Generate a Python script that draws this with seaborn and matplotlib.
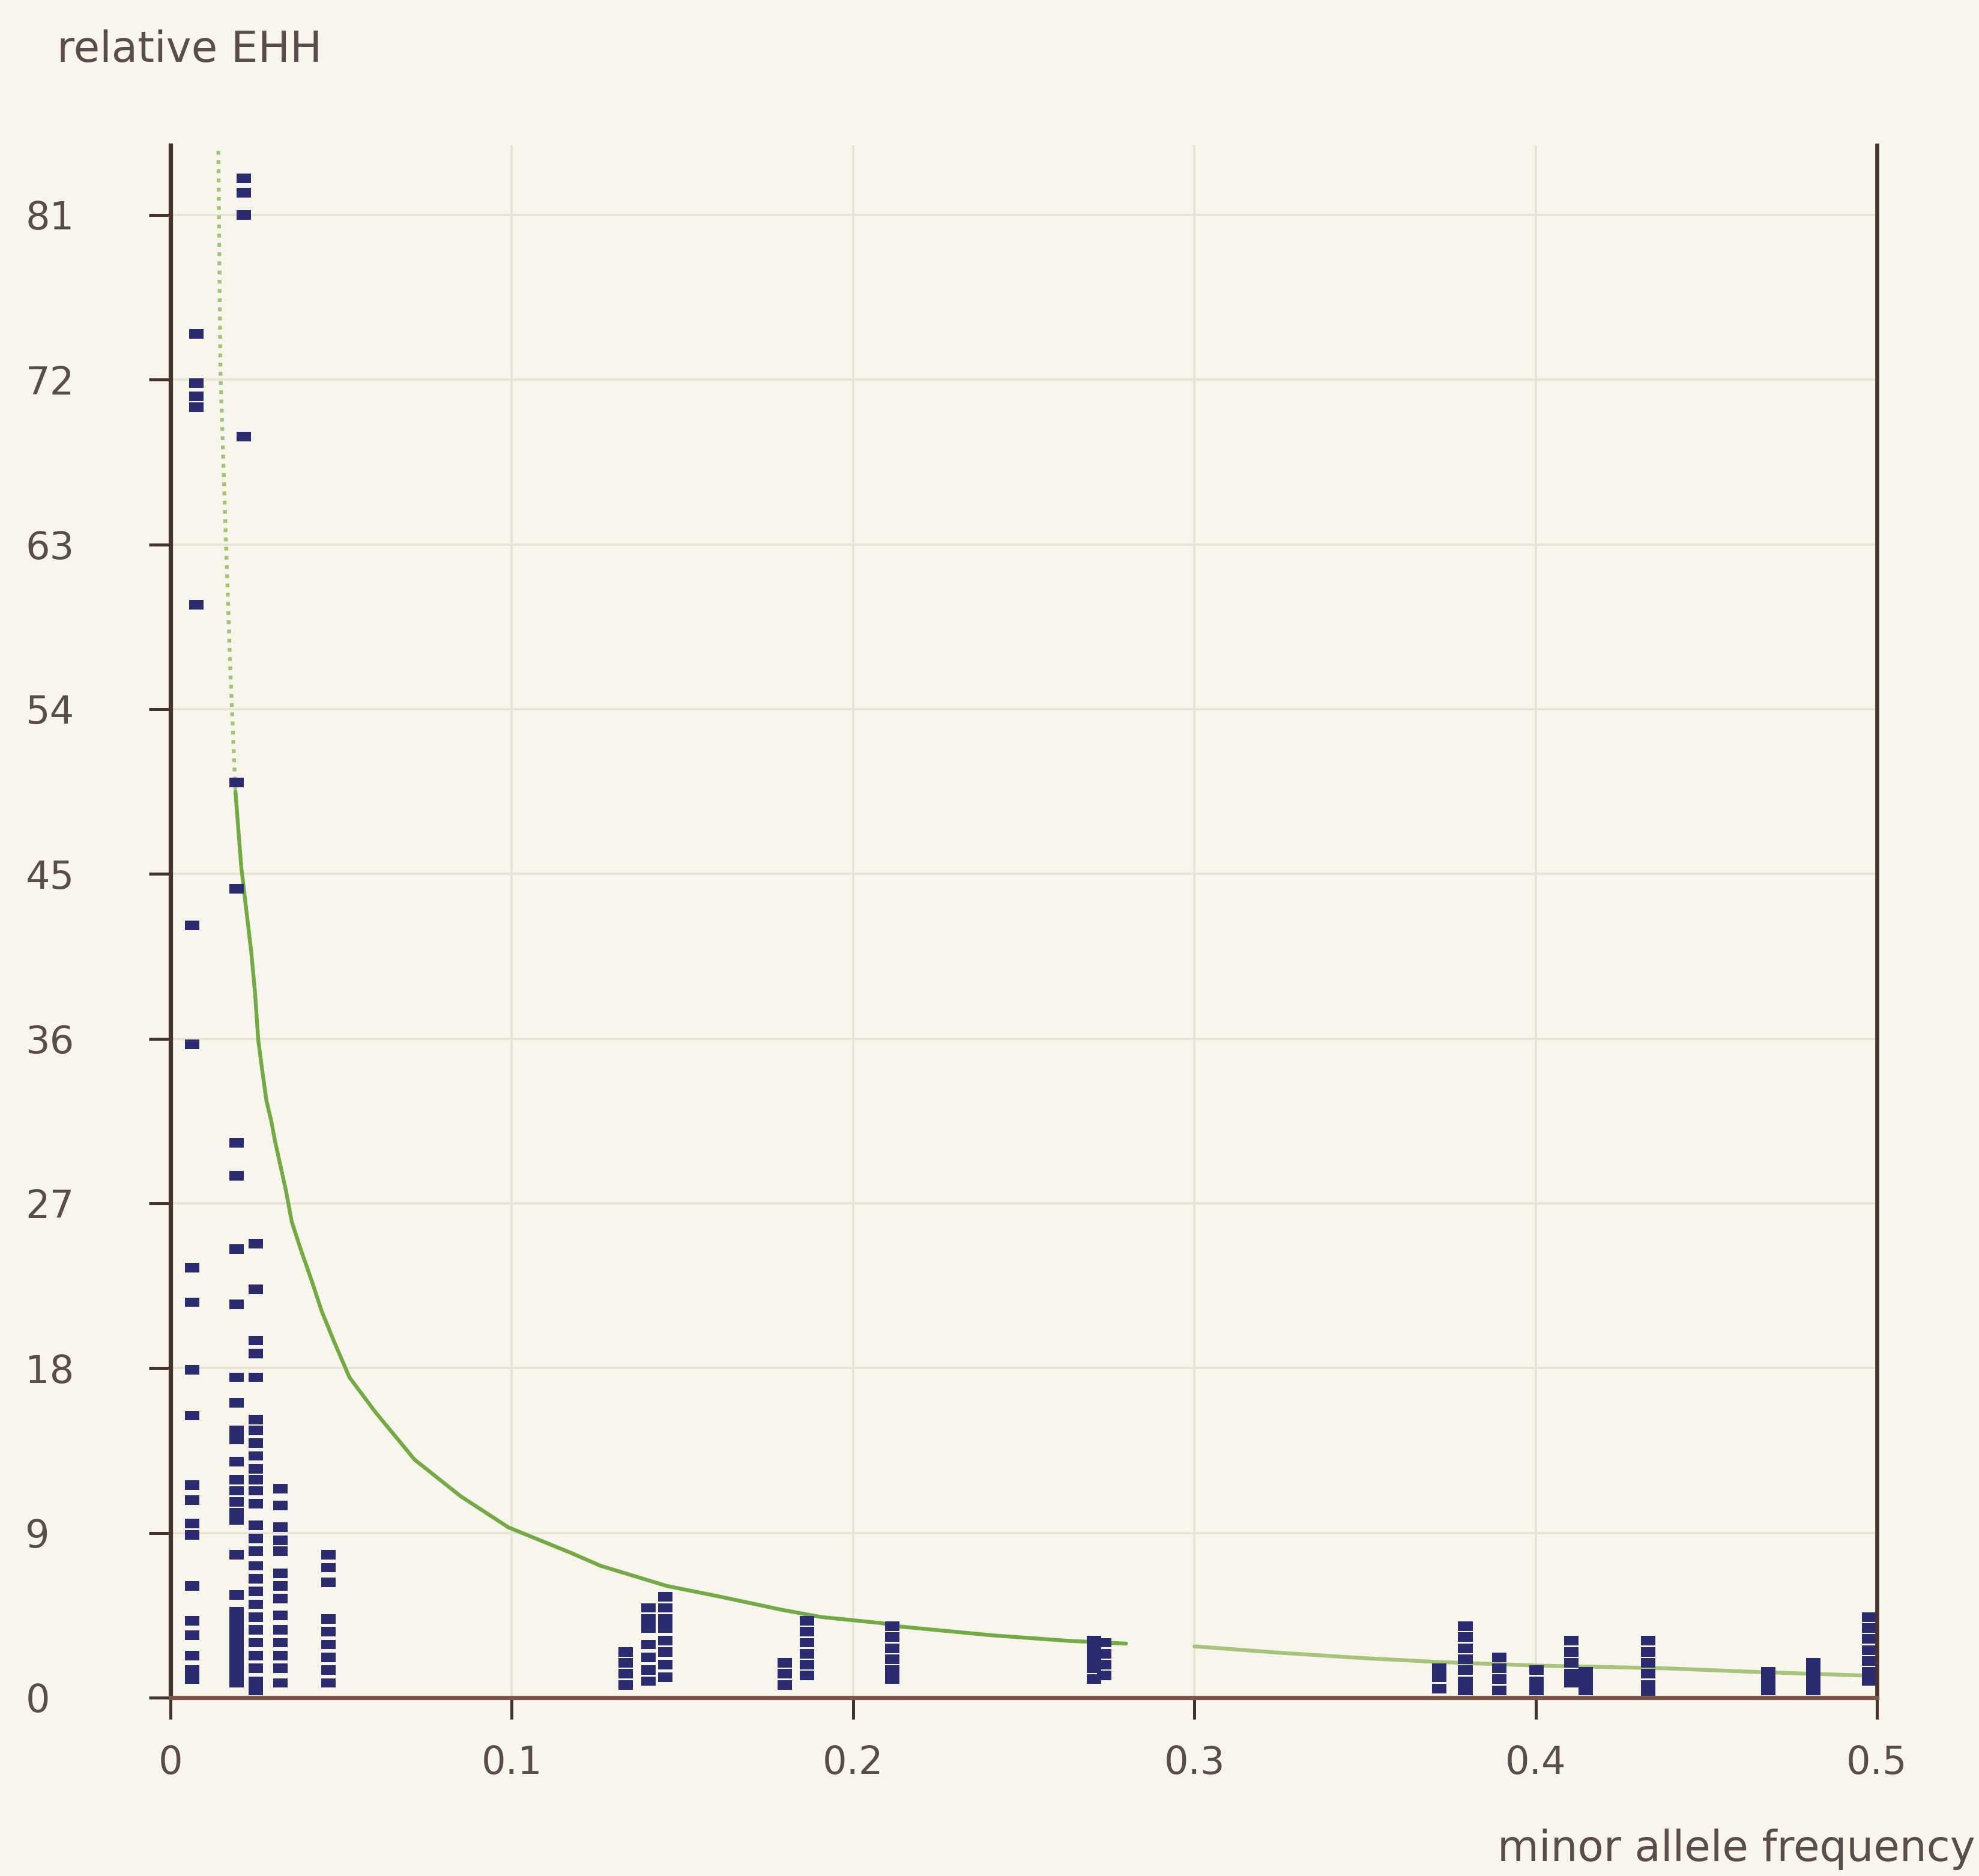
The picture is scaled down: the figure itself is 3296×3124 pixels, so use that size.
import numpy as np
import pandas as pd
import matplotlib
matplotlib.use("Agg")
import matplotlib.pyplot as plt
from matplotlib.markers import MarkerStyle
import seaborn as sns

# ---------------- data ----------------
# minor allele frequency of each column of SNPs
maf_groups = [0.0063, 0.0075, 0.0194, 0.0215, 0.0250, 0.0322, 0.0463,
              0.1333, 0.1400, 0.1450, 0.1800, 0.1864, 0.2115, 0.2705, 0.2735,
              0.3718, 0.3794, 0.3894, 0.4002, 0.4105, 0.4146, 0.4330,
              0.4682, 0.4814, 0.4977]

ehh_g01 = [42.2, 35.7, 23.5, 21.6, 17.9, 15.4, 11.6, 10.8, 9.5, 8.9, 6.1, 4.2, 3.4, 2.3, 1.5, 1.0]
ehh_g02 = [74.5, 71.8, 71.1, 70.5, 59.7]
ehh_g03 = [50.0, 44.2, 30.3, 28.5, 24.5, 21.5, 17.5, 16.1, 14.6, 14.1, 12.9, 11.9, 11.3, 10.7,
           10.1, 9.7, 7.8, 5.6, 4.7, 4.2, 3.7, 3.2, 2.7, 2.2, 1.7, 1.2, 0.8]
ehh_g04 = [83.0, 82.2, 81.0, 68.9]
ehh_g05 = [24.8, 22.3, 19.5, 18.8, 17.5, 15.2, 14.6, 13.9, 13.2, 12.5, 11.9, 11.3, 10.6, 9.4,
           8.7, 8.0, 7.2, 6.5, 5.8, 5.1, 4.4, 3.7, 3.0, 2.3, 1.6, 0.9, 0.4]
ehh_g06 = [11.4, 10.5, 9.3, 8.6, 8.0, 6.8, 6.1, 5.4, 4.5, 3.7, 3.0, 2.3, 1.6, 0.8]
ehh_g07 = [7.8, 7.1, 6.3, 4.3, 3.6, 2.9, 2.2, 1.5, 0.8]
ehh_g08 = [2.5, 1.9, 1.3, 0.7]
ehh_g09 = [4.9, 4.3, 3.8, 2.9, 2.2, 1.5, 0.9]
ehh_g10 = [5.5, 4.9, 4.3, 3.8, 3.1, 2.5, 1.8, 1.1]
ehh_g11 = [1.9, 1.3, 0.7]
ehh_g12 = [4.2, 3.6, 3.0, 2.4, 1.8, 1.2]
ehh_g13 = [3.9, 3.3, 2.7, 2.1, 1.5, 1.0]
ehh_g14 = [3.1, 2.6, 2.1, 1.6, 1.0]
ehh_g15 = [3.0, 2.4, 1.8, 1.2]
ehh_g16 = [1.6, 1.1, 0.5]
ehh_g17 = [3.9, 3.3, 2.7, 2.1, 1.5, 0.9, 0.4]
ehh_g18 = [2.2, 1.6, 1.0, 0.4]
ehh_g19 = [1.5, 0.9, 0.4]
ehh_g20 = [3.1, 2.5, 1.9, 1.3, 0.8]
ehh_g21 = [1.4, 0.9, 0.4]
ehh_g22 = [3.1, 2.5, 1.9, 1.3, 0.7, 0.3]
ehh_g23 = [1.4, 0.9, 0.4]
ehh_g24 = [1.9, 1.4, 0.9, 0.4]
ehh_g25 = [4.4, 3.8, 3.2, 2.6, 2.0, 1.4, 0.9]

ehh_groups = [ehh_g01, ehh_g02, ehh_g03, ehh_g04, ehh_g05, ehh_g06, ehh_g07, ehh_g08,
              ehh_g09, ehh_g10, ehh_g11, ehh_g12, ehh_g13, ehh_g14, ehh_g15, ehh_g16,
              ehh_g17, ehh_g18, ehh_g19, ehh_g20, ehh_g21, ehh_g22, ehh_g23, ehh_g24,
              ehh_g25]

# threshold curve, read point by point
curve_dotted_x = [0.0140, 0.0146, 0.0160, 0.0175, 0.0190]
curve_dotted_y = [84.5, 72.5, 64.4, 56.2, 49.5]
curve_left_x = [0.0190, 0.0207, 0.0222, 0.0236, 0.0247, 0.0257, 0.0269, 0.0281, 0.0295, 0.0306,
                0.0338, 0.0355, 0.0383, 0.0413, 0.0443, 0.0478, 0.0524, 0.0600, 0.0715,
                0.0850, 0.0990, 0.1174, 0.1260, 0.1454, 0.1614, 0.1790, 0.1907, 0.2083,
                0.2127, 0.2409, 0.2632, 0.2800]
curve_left_y = [49.5, 45.4, 43.0, 40.8, 38.6, 35.9, 34.2, 32.6, 31.5, 30.4,
                27.7, 26.0, 24.4, 22.8, 21.1, 19.5, 17.5, 15.6, 13.0,
                11.0, 9.3, 7.9, 7.2, 6.1, 5.5, 4.8, 4.4, 4.07,
                3.9, 3.4, 3.1, 2.95]
curve_right_x = [0.300, 0.325, 0.350, 0.371, 0.400, 0.438, 0.465, 0.497]
curve_right_y = [2.8, 2.45, 2.15, 1.95, 1.75, 1.6, 1.4, 1.2]

y_ticks = [0, 9, 18, 27, 36, 45, 54, 63, 72, 81]
x_ticks = [0, 0.1, 0.2, 0.3, 0.4, 0.5]
x_tick_labels = ["0", "0.1", "0.2", "0.3", "0.4", "0.5"]

# ---------------- build table ----------------
rows = []
for f, vals in zip(maf_groups, ehh_groups):
    for v in vals:
        rows.append((f, v))
snps = pd.DataFrame(rows, columns=["maf", "ehh"])

# ---------------- style ----------------
sns.set_style("white")
plt.rcParams["font.family"] = ["DejaVu Sans"]

bg = "#f8f6ec"
txt = "#5a4c4c"
spine_dark = "#45332d"

fig = plt.figure(figsize=(16.48, 15.62), dpi=200, facecolor=bg)
ax = fig.add_axes([0.0862, 0.0951, 0.8622, 0.8274])
ax.set_facecolor(bg)

ax.set_xlim(0, 0.5)
ax.set_ylim(0, 84.8)

ax.set_xticks(x_ticks)
ax.set_xticklabels(x_tick_labels)
ax.set_yticks(y_ticks)
ax.set_yticklabels([str(t) for t in y_ticks])

ax.grid(True, color="#e8e4d4", lw=1.3, zorder=0)
ax.set_axisbelow(True)

# curve
sns.lineplot(x=curve_dotted_x, y=curve_dotted_y, ax=ax, sort=False, estimator=None,
             color="#a3c475", lw=2.3, linestyle=(0, (1, 1.4)), zorder=2)
sns.lineplot(x=curve_left_x, y=curve_left_y, ax=ax, sort=False, estimator=None,
             color="#74aa45", lw=2.3, zorder=2)
sns.lineplot(x=curve_right_x, y=curve_right_y, ax=ax, sort=False, estimator=None,
             color="#a6c47a", lw=2.3, zorder=2)

# points
dash = MarkerStyle([(-1, -0.66), (1, -0.66), (1, 0.66), (-1, 0.66), (-1, -0.66)])
sns.scatterplot(data=snps, x="maf", y="ehh", ax=ax, marker=dash, s=75,
                color="#2b2c70", edgecolor="none", linewidth=0, zorder=3, legend=False)

ax.set_xlabel("")
ax.set_ylabel("")

ax.spines["top"].set_visible(False)
ax.spines["left"].set_color(spine_dark)
ax.spines["left"].set_linewidth(2.6)
ax.spines["right"].set_color(spine_dark)
ax.spines["right"].set_linewidth(2.4)
ax.spines["bottom"].set_color("#7a5648")
ax.spines["bottom"].set_linewidth(2.6)
for s in ax.spines.values():
    s.set_zorder(4)

ax.tick_params(axis="y", direction="out", length=13, width=1.8, color=spine_dark,
               labelsize=23, labelcolor=txt, pad=74, left=True)
ax.tick_params(axis="x", direction="out", length=13, width=1.8, color=spine_dark,
               labelsize=23, labelcolor=txt, pad=15, bottom=True)
for lab in ax.get_yticklabels():
    lab.set_horizontalalignment("left")

fig.text(95 / 3296, 1 - 84 / 3124, "relative EHH", ha="left", va="center",
         fontsize=25.5, color=txt)
fig.text(3290 / 3296, 1 - 3080 / 3124, "minor allele frequency", ha="right", va="center",
         fontsize=25.5, color=txt)

fig.savefig("out.png", dpi=200, facecolor=bg)
